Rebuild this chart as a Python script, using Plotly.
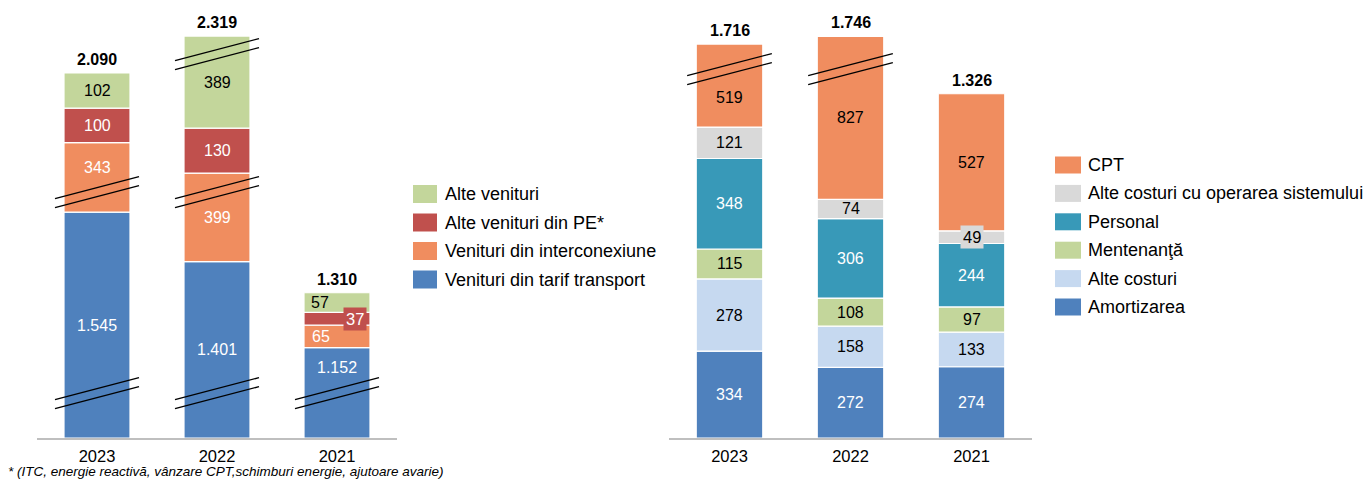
import plotly.graph_objects as go

# ---------------------------------------------------------------- data
years = ["2023", "2022", "2021"]

# Venituri (mil. lei)
venituri_tarif_transport = [1545, 1401, 1152]
venituri_interconexiune = [343, 399, 65]
alte_venituri_pe = [100, 130, 37]
alte_venituri = [102, 389, 57]
total_venituri = [2090, 2319, 1310]

# Costuri (mil. lei)
amortizarea = [334, 272, 274]
alte_costuri = [278, 158, 133]
mentenanta = [115, 108, 97]
personal = [348, 306, 244]
alte_costuri_operare = [121, 74, 49]
cpt = [519, 827, 527]
total_costuri = [1716, 1746, 1326]

# value intervals cut out of each value axis (broken axis)
venituri_axis_gaps = [(130, 1020), (1603, 1745), (2145, 2267)]
costuri_axis_gaps = [(1419, 1619)]

# ---------------------------------------------------------------- style
FONT = "Liberation Sans, Arial, sans-serif"
W, H = 1370, 479

BLUE = "#4F81BD"
ORANGE = "#F08D5F"
RED = "#C0504D"
GREEN = "#C3D69B"
GREY = "#D9D9D9"
TEAL = "#3899B8"
LIGHT_BLUE = "#C6D9F0"

venituri_series = [
    ("Venituri din tarif transport", venituri_tarif_transport, BLUE, "white"),
    ("Venituri din interconexiune", venituri_interconexiune, ORANGE, "white"),
    ("Alte venituri din PE*", alte_venituri_pe, RED, "white"),
    ("Alte venituri", alte_venituri, GREEN, "black"),
]
costuri_series = [
    ("Amortizarea", amortizarea, BLUE, "white"),
    ("Alte costuri", alte_costuri, LIGHT_BLUE, "black"),
    ("Mentenanţă", mentenanta, GREEN, "black"),
    ("Personal", personal, TEAL, "white"),
    ("Alte costuri cu operarea sistemului", alte_costuri_operare, GREY, "black"),
    ("CPT", cpt, ORANGE, "black"),
]

# label nudges (pixels) and boxed labels: (series, year) -> (dx, dy, boxed)
venituri_label_nudge = {
    ("Venituri din tarif transport", "2021"): (0, 25, False),
    ("Venituri din interconexiune", "2023"): (0, 10, False),
    ("Alte venituri", "2021"): (-17, 0, False),
    ("Alte venituri din PE*", "2021"): (18, 0, True),
    ("Venituri din interconexiune", "2021"): (-16, 0, False),
}
costuri_label_nudge = {
    ("CPT", "2023"): (0, -12, False),
    ("Alte costuri cu operarea sistemului", "2021"): (0, 0, True),
}


def fmt(v):
    return f"{v:,}".replace(",", ".")


def squeeze(v, gaps):
    """Map a real value onto the broken axis."""
    d = v
    for a, b in gaps:
        if v >= b:
            d -= b - a
        elif v > a:
            d -= v - a
    return d


def px(x):
    return x / W


def py(y):
    return 1 - y / H


fig = go.Figure()

BAR_W = 0.55
PLOT_TOP, PLOT_BOTTOM = 20, 438


def add_stack(series, gaps, totals, xref, yref, nudges):
    lower = [0] * len(years)
    for name, vals, color, txt_color in series:
        base = [squeeze(lo, gaps) for lo in lower]
        top = [squeeze(lo + v, gaps) for lo, v in zip(lower, vals)]
        fig.add_trace(go.Bar(
            x=years, y=[t - b for t, b in zip(top, base)], base=base,
            width=BAR_W, name=name, marker=dict(color=color, line=dict(color="white", width=1.2)),
            customdata=vals, hovertemplate="%{x}: %{customdata}<extra>" + name + "</extra>",
            xaxis=xref, yaxis=yref, showlegend=False,
        ))
        for i, yr in enumerate(years):
            dx, dy, boxed = nudges.get((name, yr), (0, 0, False))
            fig.add_annotation(
                x=i, y=(base[i] + top[i]) / 2, xref=xref, yref=yref,
                text=fmt(vals[i]), showarrow=False, xshift=dx, yshift=dy,
                font=dict(family=FONT, size=16.5 if boxed else 16, color=txt_color),
                bgcolor=color if boxed else "rgba(0,0,0,0)", borderpad=2 if boxed else 0,
            )
        lower = [lo + v for lo, v in zip(lower, vals)]

    # totals above each stack
    for i in range(len(years)):
        fig.add_annotation(
            x=i, y=squeeze(lower[i], gaps), xref=xref, yref=yref,
            text="<b>" + fmt(totals[i]) + "</b>", showarrow=False,
            yanchor="bottom", yshift=3,
            font=dict(family=FONT, size=16, color="black"),
        )

    # break marks where a stack crosses an axis gap
    for a, b in gaps:
        yb = squeeze(a, gaps)
        for i in range(len(years)):
            if lower[i] > b:
                for off in (4.5, -4.5):
                    fig.add_shape(
                        type="line", xref=xref, yref=yref,
                        x0=i - 0.35, x1=i + 0.35,
                        ysizemode="pixel", yanchor=yb,
                        y0=-11 + off, y1=11 + off,
                        line=dict(color="black", width=1.3), layer="above",
                    )


add_stack(venituri_series, venituri_axis_gaps, total_venituri, "x", "y", venituri_label_nudge)
add_stack(costuri_series, costuri_axis_gaps, total_costuri, "x2", "y2", costuri_label_nudge)

ydom = [py(PLOT_BOTTOM), py(PLOT_TOP)]
axis_common = dict(
    type="category", showgrid=False, zeroline=False,
    showline=True, linecolor="#BFBFBF", linewidth=1.5,
    ticks="outside", ticklen=2, tickcolor="rgba(0,0,0,0)",
    tickfont=dict(family=FONT, size=16.5, color="black"),
    range=[-0.5, 2.5], fixedrange=True,
)
fig.update_layout(
    width=W, height=H, margin=dict(l=0, r=0, t=0, b=0), autosize=False,
    paper_bgcolor="white", plot_bgcolor="white", barmode="overlay",
    xaxis=dict(domain=[px(37), px(397)], anchor="y", **axis_common),
    xaxis2=dict(domain=[px(669), px(1032)], anchor="y2", **axis_common),
    yaxis=dict(domain=ydom, range=[0, (PLOT_BOTTOM - PLOT_TOP) / 0.345], visible=False, fixedrange=True),
    yaxis2=dict(domain=ydom, range=[0, (PLOT_BOTTOM - PLOT_TOP) / 0.26], visible=False, fixedrange=True),
    showlegend=False,
)


# legends
def add_legend(items, x_sw, y_first, step, sw_w, sw_h, x_txt):
    for k, (name, color) in enumerate(items):
        yc = y_first + k * step
        fig.add_shape(type="rect", xref="paper", yref="paper",
                      x0=px(x_sw), x1=px(x_sw + sw_w), y0=py(yc + sw_h / 2), y1=py(yc - sw_h / 2),
                      fillcolor=color, line=dict(width=0))
        fig.add_annotation(xref="paper", yref="paper", x=px(x_txt), y=py(yc),
                           xanchor="left", yanchor="middle", text=name, showarrow=False,
                           font=dict(family=FONT, size=18, color="black"))


add_legend([(n, c) for n, _, c, _ in reversed(venituri_series)], 413, 194, 28.5, 24, 18, 443)
add_legend([(n, c) for n, _, c, _ in reversed(costuri_series)], 1055, 165, 28.4, 26, 17, 1086)

fig.add_annotation(
    xref="paper", yref="paper", x=px(6), y=py(471), xanchor="left", yanchor="middle",
    text="<i>* (ITC, energie reactivă, vânzare CPT,schimburi energie, ajutoare avarie)</i>",
    showarrow=False, font=dict(family=FONT, size=13.5, color="black"),
)

fig.write_html("out.html")
